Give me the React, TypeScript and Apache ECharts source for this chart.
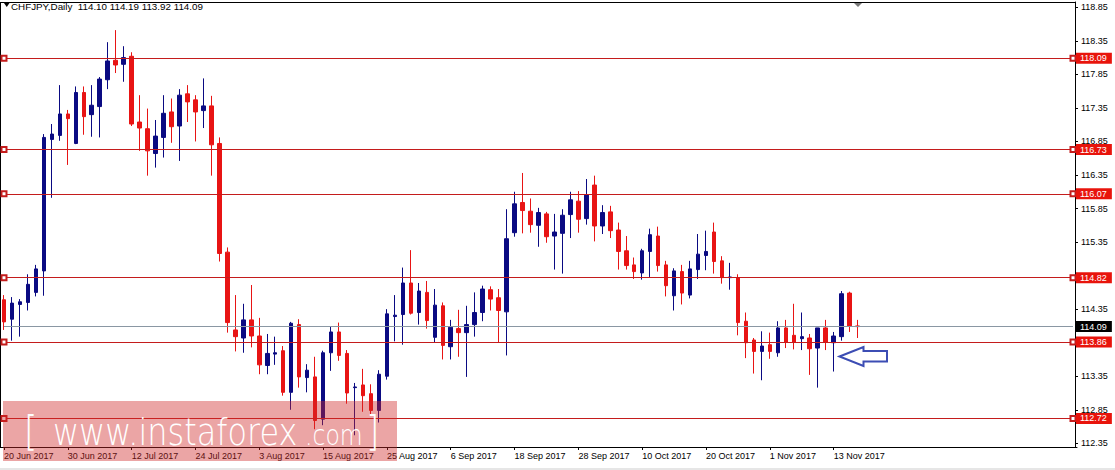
import React, { useEffect, useRef } from 'react';
import * as echarts from 'echarts';

const junDays = [20, 21, 22, 23, 26, 27, 28, 29, 30];
const julDays = [3, 4, 5, 6, 7, 10, 11, 12, 13, 14, 17, 18, 19, 20, 21, 24, 25, 26, 27, 28, 31];
const augDays = [1, 2, 3, 4, 7, 8, 9, 10, 11, 14, 15, 16, 17, 18, 21, 22, 23, 24, 25, 28, 29, 30, 31];
const sepDays = [1, 4, 5, 6, 7, 8, 11, 12, 13, 14, 15, 18, 19, 20, 21, 22, 25, 26, 27, 28, 29];
const octDays = [2, 3, 4, 5, 6, 9, 10, 11, 12, 13, 16, 17, 18, 19, 20, 23, 24, 25, 26, 27, 30, 31];
const novDays = [1, 2, 3, 6, 7, 8, 9, 10, 13, 14, 15, 16];

const openPrices = [
  114.49, 114.20, 114.42, 114.45, 114.60, 114.92, 116.88, 116.94, 117.26, 116.82,
  117.58, 117.25, 117.37, 117.77, 118.06, 118.00, 118.12, 117.14, 117.04, 116.67,
  116.91, 117.29, 117.08, 117.56, 117.47, 117.31, 117.38, 116.82, 115.20, 114.04,
  113.92, 114.19, 113.95, 113.51, 113.68, 113.73, 113.11, 114.12, 113.33, 113.34,
  112.71, 113.70, 114.01, 113.69, 113.18, 113.22, 113.09, 112.84, 113.35, 114.24,
  114.27, 114.74, 114.30, 114.60, 113.93, 114.40, 113.79, 114.06, 114.00, 114.12,
  114.30, 114.64, 114.52, 114.31, 115.49, 115.94, 115.81, 115.60, 115.77, 115.44,
  115.48, 115.76, 115.96, 115.70, 116.20, 115.59, 115.80, 115.53, 115.22, 115.01,
  114.89, 115.21, 115.44, 115.01, 114.55, 114.91, 114.56, 114.94, 115.15, 115.50,
  115.07, 114.82, 114.82, 114.17, 113.89, 113.72, 113.82, 113.70, 114.07, 113.96,
  113.91, 113.92, 113.77, 114.07, 113.85, 113.94, 114.59, 114.10,
];
const highPrices = [
  114.56, 114.53, 114.50, 114.87, 115.01, 116.96, 117.11, 117.69, 117.32, 117.67,
  117.67, 117.69, 117.81, 118.33, 118.51, 118.27, 118.18, 117.54, 117.34, 117.17,
  117.54, 117.49, 117.63, 117.69, 117.54, 117.79, 117.53, 116.91, 115.27, 114.56,
  114.43, 114.71, 114.22, 113.98, 113.94, 113.80, 114.16, 114.20, 113.53, 113.64,
  113.73, 114.09, 114.15, 113.74, 113.25, 113.46, 113.23, 113.44, 114.35, 114.56,
  114.97, 115.23, 114.74, 114.77, 114.65, 114.45, 114.19, 114.34, 114.40, 114.60,
  114.70, 114.69, 114.65, 115.84, 116.10, 116.38, 116.00, 115.86, 115.80, 115.77,
  115.84, 116.10, 116.11, 116.29, 116.34, 115.90, 115.89, 115.64, 115.44, 115.12,
  115.25, 115.55, 115.58, 115.07, 114.96, 115.01, 115.07, 115.47, 115.52, 115.64,
  115.14, 115.04, 114.87, 114.30, 113.92, 114.02, 114.00, 114.17, 114.19, 114.43,
  114.30, 113.98, 114.07, 114.19, 114.01, 114.62, 114.61, 114.19,
];
const lowPrices = [
  114.04, 113.88, 113.94, 114.33, 114.54, 114.55, 116.01, 116.86, 116.50, 116.81,
  116.95, 116.92, 116.91, 117.63, 117.87, 117.74, 117.08, 116.71, 116.34, 116.46,
  116.61, 116.83, 116.56, 117.14, 116.85, 117.05, 116.34, 115.06, 114.00, 113.72,
  113.70, 113.78, 113.38, 113.38, 113.52, 113.06, 112.85, 113.18, 113.11, 112.56,
  112.62, 113.43, 113.58, 112.94, 112.47, 112.82, 112.76, 112.66, 113.30, 113.87,
  113.82, 114.27, 114.12, 114.06, 113.85, 113.60, 113.60, 113.64, 113.34, 113.94,
  114.17, 114.33, 113.85, 113.66, 115.43, 115.48, 115.49, 115.28, 115.34, 114.94,
  114.88, 115.41, 115.49, 115.61, 115.36, 115.47, 115.41, 114.94, 114.94, 114.80,
  114.79, 114.83, 114.91, 114.54, 114.33, 114.42, 114.51, 114.80, 114.93, 114.88,
  114.73, 114.64, 113.96, 113.62, 113.39, 113.29, 113.61, 113.64, 113.77, 113.75,
  113.74, 113.37, 113.18, 113.74, 113.42, 113.88, 114.01, 113.92,
];
const closePrices = [
  114.16, 114.44, 114.46, 114.72, 114.95, 116.91, 116.96, 117.26, 117.19, 117.58,
  117.22, 117.39, 117.78, 118.05, 117.99, 118.10, 117.11, 117.05, 116.71, 116.93,
  117.27, 117.07, 117.54, 117.44, 117.29, 117.38, 116.80, 115.18, 114.15, 113.94,
  114.19, 113.95, 113.52, 113.69, 113.70, 113.11, 114.14, 113.34, 113.44, 112.69,
  113.70, 114.01, 113.66, 113.10, 113.19, 113.06, 112.84, 113.38, 114.28, 114.26,
  114.74, 114.29, 114.62, 114.18, 114.41, 113.81, 114.08, 114.00, 114.12, 114.30,
  114.65, 114.50, 114.33, 115.40, 115.92, 115.82, 115.61, 115.79, 115.43, 115.50,
  115.75, 115.98, 115.69, 116.05, 115.59, 115.79, 115.52, 115.21, 115.00, 114.91,
  115.22, 115.46, 115.00, 114.70, 114.92, 114.59, 114.95, 115.17, 115.21, 115.06,
  114.82, 114.83, 114.15, 113.85, 113.72, 113.80, 113.72, 114.07, 113.86, 113.86,
  113.94, 113.76, 114.07, 113.86, 113.95, 114.58, 114.10, 114.09,
];

const levelLines = [118.09, 116.73, 116.07, 114.82, 113.86, 112.72];
const lastPrice = 114.09;
const priceTicks = [
  112.35, 112.85, 113.35, 113.85, 114.35, 114.85, 115.35,
  115.85, 116.35, 116.85, 117.35, 117.85, 118.35, 118.85,
];
const symbolName = 'CHFJPY,Daily';
const titleOHLC = [114.10, 114.19, 113.92, 114.09];

const FONT = '"Liberation Sans", Arial, sans-serif';
const WM_FONT = '"DejaVu Sans", sans-serif';
const BULL = '#0a0a82';
const BEAR = '#e81414';

export default function App() {
  const ref = useRef<HTMLDivElement>(null);

  useEffect(() => {
    document.body.style.margin = '0';
    const chart = echarts.init(ref.current!, null, { renderer: 'svg' });

    const dates = [
      ...junDays.map((d) => `${d} Jun 2017`),
      ...julDays.map((d) => `${d} Jul 2017`),
      ...augDays.map((d) => `${d} Aug 2017`),
      ...sepDays.map((d) => `${d} Sep 2017`),
      ...octDays.map((d) => `${d} Oct 2017`),
      ...novDays.map((d) => `${d} Nov 2017`),
    ];
    const nCats = 135;
    const categories = [
      ...dates,
      ...Array.from({ length: nCats - dates.length }, (_, k) => `pad${k}`),
    ];
    const showLabel = (index: number) => index < dates.length && index % 8 === 0;

    const candleData = openPrices.map((o, i) => [o, closePrices[i], lowPrices[i], highPrices[i]]);

    const badge = (bg: string, v: number) => ({
      show: true,
      position: 'end',
      distance: 3,
      color: '#fff',
      backgroundColor: bg,
      fontSize: 9,
      fontFamily: FONT,
      padding: [1, 5, 1, 4],
      formatter: v.toFixed(2),
    });

    const markData: any[] = levelLines.map((v) => [
      { coord: [0, v], symbol: 'emptyRect', symbolSize: 5, label: badge('#e8140c', v) },
      { coord: [nCats - 1, v], symbol: 'emptyRect', symbolSize: 5 },
    ]);
    markData.push([
      {
        coord: [0, lastPrice],
        symbol: 'none',
        lineStyle: { color: '#8a97a3', width: 1, type: 'solid' },
        label: badge('#000', lastPrice),
      },
      { coord: [nCats - 1, lastPrice], symbol: 'none' },
    ]);

    const titleStr = `${symbolName}\u00a0\u00a0${titleOHLC.map((v) => v.toFixed(2)).join(' ')}`;

    const wmText = (text: string, x: number, y: number, size: number, sx: number) => ({
      type: 'text',
      z: 101,
      x,
      y,
      scaleX: sx,
      style: { text, fontSize: size, fontWeight: 200, fontFamily: WM_FONT, fill: '#fff', verticalAlign: 'middle' },
    });

    const option: any = {
      animation: false,
      backgroundColor: '#fff',
      grid: { left: -3, right: 38, top: 2, bottom: 23, containLabel: false },
      xAxis: {
        type: 'category',
        data: categories,
        boundaryGap: true,
        axisLine: { show: true, lineStyle: { color: '#000', width: 1 } },
        axisTick: {
          show: true,
          alignWithLabel: true,
          interval: showLabel,
          length: 3,
          lineStyle: { color: '#000' },
        },
        axisLabel: {
          show: true,
          interval: showLabel,
          align: 'left',
          margin: 4,
          fontSize: 9,
          fontFamily: FONT,
          color: '#000',
        },
        splitLine: { show: false },
        axisPointer: { show: false },
      },
      yAxis: {
        type: 'value',
        position: 'right',
        min: 112.295,
        max: 118.929,
        offset: -2,
        axisLine: { show: true, lineStyle: { color: '#000', width: 1 } },
        axisTick: { show: true, length: 3, customValues: priceTicks, lineStyle: { color: '#000' } },
        axisLabel: {
          show: true,
          customValues: priceTicks,
          formatter: (v: number) => v.toFixed(2),
          margin: 6,
          fontSize: 9,
          fontFamily: FONT,
          color: '#000',
        },
        splitLine: { show: false },
      },
      series: [
        {
          type: 'candlestick',
          data: candleData,
          barWidth: 4,
          silent: true,
          itemStyle: {
            color: BULL,
            color0: BEAR,
            borderColor: BULL,
            borderColor0: BEAR,
            borderWidth: 1,
          },
          markLine: {
            silent: true,
            animation: false,
            symbol: ['emptyRect', 'emptyRect'],
            symbolSize: 5,
            lineStyle: { type: 'solid', width: 1, color: '#c41c1c' },
            emphasis: { disabled: true },
            data: markData,
          },
        },
      ],
      graphic: [
        { type: 'rect', shape: { x: 0, y: 468, width: 1115, height: 2 }, style: { fill: '#e6e6e6' } },
        { type: 'line', shape: { x1: 0, y1: 2.5, x2: 1075, y2: 2.5 }, style: { stroke: '#000', lineWidth: 1 } },
        { type: 'line', shape: { x1: 0.5, y1: 2, x2: 0.5, y2: 447 }, style: { stroke: '#000', lineWidth: 1 } },
        { type: 'polygon', shape: { points: [[4, 3], [9.5, 3], [6.75, 7]] }, style: { fill: '#000' } },
        {
          type: 'text',
          x: 11,
          y: 6,
          style: { text: titleStr, fontSize: 9.8, fontFamily: FONT, fill: '#000', verticalAlign: 'middle' },
        },
        { type: 'polygon', shape: { points: [[854, 3], [862, 3], [858, 7]] }, style: { fill: '#777' } },
        {
          type: 'polygon',
          z: 100,
          shape: {
            points: [[839.5, 356.5], [863.5, 347], [863.5, 351], [887, 351], [887, 361.5], [863.5, 361.5], [863.5, 366]],
          },
          style: { fill: 'none', stroke: '#3c4db4', lineWidth: 2 },
        },
        { type: 'rect', z: 100, shape: { x: 3, y: 401, width: 394, height: 60 }, style: { fill: 'rgba(208,40,40,0.42)' } },
        wmText('[', 24, 431, 40, 0.86),
        wmText('www.instaforex', 53, 431.9, 38, 0.84),
        wmText('.com', 305, 435.3, 28, 0.84),
        wmText(']', 366, 431, 40, 0.86),
      ],
    };

    chart.setOption(option);
    return () => chart.dispose();
  }, []);

  return <div ref={ref} style={{ width: 1115, height: 470, background: '#fff' }} />;
}
